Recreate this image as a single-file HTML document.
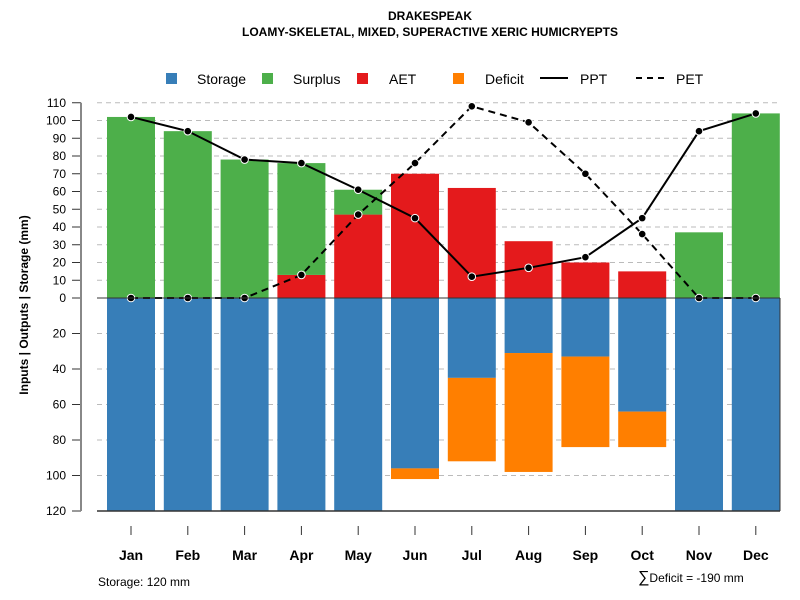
<!DOCTYPE html>
<html><head><meta charset="utf-8"><style>
body{margin:0;background:#fff;font-family:"Liberation Sans",sans-serif}
svg{display:block}
</style></head><body>
<svg id="chart" width="800" height="600" xmlns="http://www.w3.org/2000/svg" font-family="Liberation Sans, sans-serif">
<text x="430" y="20" text-anchor="middle" font-size="12" font-weight="bold">DRAKESPEAK</text>
<text x="430" y="36" text-anchor="middle" font-size="12" font-weight="bold">LOAMY-SKELETAL, MIXED, SUPERACTIVE XERIC HUMICRYEPTS</text>
<g id="legend" font-size="14">
<g><rect x="166" y="73" width="11" height="11" fill="#377eb8"/><text x="197" y="84">Storage</text></g>
<g><rect x="262" y="73" width="11" height="11" fill="#4daf4a"/><text x="293" y="84">Surplus</text></g>
<g><rect x="357" y="73" width="11" height="11" fill="#e41a1c"/><text x="389" y="84">AET</text></g>
<g><rect x="453" y="73" width="11" height="11" fill="#ff7f00"/><text x="485" y="84">Deficit</text></g>
<g><line x1="540" y1="78" x2="568" y2="78" stroke="#000" stroke-width="2"/><text x="580" y="84">PPT</text></g>
<g><line x1="636" y1="78" x2="664" y2="78" stroke="#000" stroke-width="2" stroke-dasharray="6,5"/><text x="676" y="84">PET</text></g>
</g>
<text transform="translate(28,305) rotate(-90)" text-anchor="middle" font-size="12" font-weight="bold">Inputs | Outputs | Storage    (mm)</text>
<text x="98" y="586" font-size="12">Storage: 120 mm</text>
<text x="638" y="582" font-size="12"><tspan font-size="16">∑</tspan>Deficit = -190 mm</text>
<g id="grid"></g><g id="bars"></g><g id="lines"></g><g id="axes"></g>
</svg>
<script>
const months=["Jan","Feb","Mar","Apr","May","Jun","Jul","Aug","Sep","Oct","Nov","Dec"];
const aet=[0,0,0,13,47,70,62,32,20,15,0,0];
const surplus=[102,94,78,63,14,0,0,0,0,0,37,104];
const storage=[120,120,120,120,120,96,45,31,33,64,120,120];
const deficit=[0,0,0,0,0,6,47,67,51,20,0,0];
const ppt=[102,94,78,76,61,45,12,17,23,45,94,104];
const pet=[0,0,0,13,47,76,108,99,70,36,0,0];
const upTicks=[0,10,20,30,40,50,60,70,80,90,100,110];
const downTicks=[20,40,60,80,100,120];
const NS="http://www.w3.org/2000/svg";
const y0=298,k=1.775;
const y=v=>y0-v*k;
const x=i=>131+i*56.8;
const bw=48;
function mk(tag,a,p){const e=document.createElementNS(NS,tag);for(const n in a)e.setAttribute(n,a[n]);document.getElementById(p).appendChild(e);return e;}
upTicks.forEach(t=>{
 const g=mk("line",{x1:97,x2:780,y1:y(t),y2:y(t),stroke:"#bbb","stroke-dasharray":"5,4"},"grid");
 
 
 const tk=mk("line",{x1:72,x2:81,y1:y(t),y2:y(t),stroke:"#333"},"axes");
 
 
 const l=mk("text",{x:66,y:y(t)+4,"text-anchor":"end","font-size":12},"axes");l.textContent=t;
 
 
});
downTicks.forEach(t=>{
 const g=mk("line",{x1:97,x2:780,y1:y(-t),y2:y(-t),stroke:"#bbb","stroke-dasharray":"5,4"},"grid");
 
 
 const tk=mk("line",{x1:72,x2:81,y1:y(-t),y2:y(-t),stroke:"#333"},"axes");
 
 
 const l=mk("text",{x:66,y:y(-t)+4,"text-anchor":"end","font-size":12},"axes");l.textContent=t;
 
 
});
const ax=mk("line",{x1:81,x2:81,y1:y(110),y2:y(-120),stroke:"#888","stroke-width":2},"axes");


const bx=mk("line",{x1:97,x2:780,y1:y(-120),y2:y(-120),stroke:"#333","stroke-width":1.5},"axes");


const zl=mk("line",{x1:97,x2:780,y1:y0,y2:y0,stroke:"#333"},"axes");


const rl=mk("line",{x1:780,x2:780,y1:y0,y2:y(-120),stroke:"#333"},"axes");


months.forEach((m,i)=>{
 const cx=x(i),l=cx-bw/2;
 let r;
 r=mk("rect",{x:l,y:y(0),width:bw,height:storage[i]*k,fill:"#377eb8"},"bars");
 
 
 if(deficit[i]>0){r=mk("rect",{x:l,y:y(-storage[i]),width:bw,height:deficit[i]*k,fill:"#ff7f00"},"bars");
 
 }
 if(aet[i]>0){r=mk("rect",{x:l,y:y(aet[i]),width:bw,height:aet[i]*k,fill:"#e41a1c"},"bars");
 
 }
 if(surplus[i]>0){r=mk("rect",{x:l,y:y(aet[i]+surplus[i]),width:bw,height:surplus[i]*k,fill:"#4daf4a"},"bars");
 
 }
 const tk=mk("line",{x1:cx,x2:cx,y1:526,y2:535,stroke:"#333"},"axes");
 
 
 const t=mk("text",{x:cx,y:560,"text-anchor":"middle","font-size":14,"font-weight":"bold"},"axes");t.textContent=m;
 
 
});
function series(arr,name,dash){
 const p=mk("polyline",{points:arr.map((v,i)=>x(i)+","+y(v)).join(" "),fill:"none",stroke:"#000","stroke-width":2,"stroke-dasharray":dash},"lines");
 
 
 arr.forEach((v,i)=>{const c=mk("circle",{cx:x(i),cy:y(v),r:3.8,fill:"#000",stroke:"#fff","stroke-width":1},"lines");
 
 });
}
series(pet,"pet","7,5");
series(ppt,"ppt","none");
</script>
</body></html>
